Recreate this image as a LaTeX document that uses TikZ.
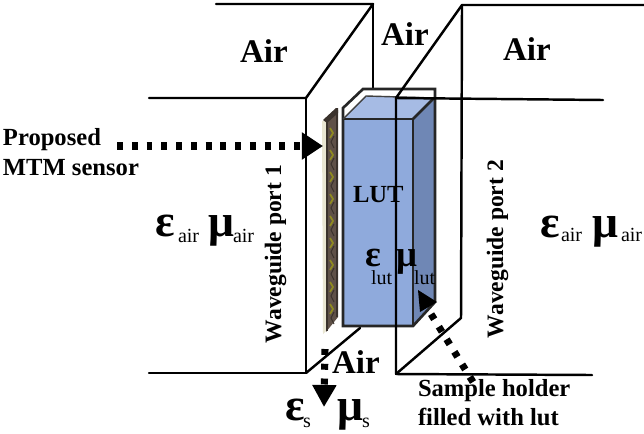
\documentclass[tikz,border=0pt]{standalone}
\usepackage{fontspec}
\setmainfont{Liberation Serif}
\usetikzlibrary{arrows.meta}
\definecolor{lutfront}{HTML}{8FAADC}
\definecolor{luttop}{HTML}{A6BBE4}
\definecolor{lutside}{HTML}{6F87B5}
\definecolor{sensorbrown}{HTML}{5F5148}
\definecolor{sensordark}{HTML}{3A322C}
\definecolor{sensorgreen}{HTML}{8F8A20}
\definecolor{sensorpale}{HTML}{E9E6D2}
\tikzset{
  x=0.02cm,y=-0.02cm,
  wall/.style={line width=1.4pt,black,line cap=round,line join=round},
  holder/.style={line width=1.5pt,black!85,line join=miter},
  dots/.style={line width=4pt,dash pattern=on 3.4pt off 5pt,black},
  lbl/.style={anchor=base west,inner sep=0pt,outer sep=0pt,font=\fontsize{14}{16}\selectfont\bfseries},
  airlbl/.style={lbl,font=\fontsize{18.8}{20}\selectfont\bfseries},
  sym/.style={lbl,font=\fontsize{26}{28}\selectfont\bfseries},
  symsmall/.style={lbl,font=\fontsize{21}{23}\selectfont\bfseries},
  sub/.style={anchor=base west,inner sep=0pt,outer sep=0pt,font=\fontsize{11.4}{13}\selectfont},
  port/.style={lbl,rotate=90,font=\fontsize{13.4}{15}\selectfont\bfseries},
}
\begin{document}
\begin{tikzpicture}
\fill[white] (0,0) rectangle (644,433);
\useasboundingbox (0,0) rectangle (644,433);

% named corners of the two port planes
\coordinate (pa) at (306,98);
\coordinate (pb) at (373,4);
\coordinate (pc) at (306,373);
\coordinate (qa) at (396,98);
\coordinate (qb) at (462,5);
\coordinate (qc) at (396,374);
\coordinate (qd) at (461,318);

% port 1 (behind the box)
\draw[wall] (216,4) -- (pb) -- (pa) -- (149,98);
\draw[wall] (pb) -- (373,92);
\draw[wall] (pa) -- (pc) -- (149,373);
\draw[wall] (pc) -- (360,328);

% sensor
\fill[sensorpale] (322,121) -- (327,120) -- (327,330) -- (323,334) -- cycle;
\fill[sensorbrown] (326,120) -- (338,110) -- (338,317) -- (326,332) -- cycle;
\fill[sensordark] (323,120) -- (336,108) -- (338,108) -- (338,113) -- (327,123) -- cycle;
\draw[sensordark,line width=0.7pt] (327,122) -- (327,331) (337,111) -- (337,317);
\foreach \yy in {128,150,172,194,216,238,260,282,304}{
  \draw[sensorgreen,line width=1pt] (330,\yy) -- (333,\yy+5) -- (330,\yy+10);
  \draw[sensordark,line width=0.6pt] (334,\yy+8) -- (331,\yy+14) -- (334,\yy+20);
}

% LUT box
\fill[white] (343,108) -- (363,89) -- (435,89) -- (435,119) -- (343,119) -- cycle;
\fill[luttop] (343,119) -- (366,96) -- (434,99) -- (413,119) -- cycle;
\fill[lutside] (413,119) -- (434,99) -- (435,302) -- (413,326) -- cycle;
\fill[lutfront] (344,119) rectangle (413,326);
\draw[holder] (343,119) -- (343,108) -- (363,89) -- (435,89) -- (435,302) -- (413,326) -- (343,326) -- cycle;
\draw[holder] (343,119) -- (413,119) -- (413,326);
\draw[holder] (413,119) -- (434,98);
\draw[line width=0.8pt,black!75] (343,119) -- (366,96) -- (434,98);

% port 2 (in front of the box)
\draw[wall] (644,5) -- (qb) -- (qa) -- (603,100);
\draw[wall] (qb) -- (qd) -- (qc);
\draw[wall] (qa) -- (qc) -- (592,375);

% texts
\node[airlbl] (air1) at (240,62) {Air};
\node[airlbl] (air2) at (381,45) {Air};
\node[airlbl] (air3) at (503,60) {Air};
\node[airlbl] (air4) at (332,373) {Air};
\node[lbl] (prop) at (3,145) {Proposed};
\node[lbl] (mtm) at (3,175) {MTM sensor};
\node[port] (port1) at (281,343) {Waveguide port 1};
\node[port] (port2) at (503,338) {Waveguide port 2};
\node[lbl] (lut) at (353,202) {LUT};
\node[lbl] (s1) at (418,396) {Sample holder};
\node[lbl] (s2) at (418,425) {filled with lut};

\node[sym] (e1) at (155,236) {ε};
\node[sub] (e1s) at (178,242) {air};
\node[sym] (m1) at (208,236) {μ};
\node[sub] (m1s) at (233,242) {air};
\node[sym] (e2) at (540,237) {ε};
\node[sub] (e2s) at (561,241) {air};
\node[sym] (m2) at (592,237) {μ};
\node[sub] (m2s) at (621,241) {air};
\node[symsmall] (e3) at (365,266) {ε};
\node[sub] (e3s) at (371,284) {lut};
\node[symsmall] (m3) at (396,266) {μ};
\node[sub] (m3s) at (414,284) {lut};
\node[sym] (e4) at (285,420) {ε};
\node[sub] (e4s) at (303,427) {s};
\node[sym] (m4) at (337,420) {μ};
\node[sub] (m4s) at (362,427) {s};

% dotted pointers
\coordinate (a1s) at (117,146);
\coordinate (a1e) at (323,146);
\coordinate (a2s) at (325,349);
\coordinate (a2e) at (324,407);
\coordinate (a3s) at (473,382);
\coordinate (a3e) at (431,314);
\draw[dots,-{Triangle[length=12pt,width=14.8pt]}] (a1s) -- (a1e);
\draw[dots,-{Triangle[length=12.5pt,width=13pt]}] (a2s) -- (a2e);
\draw[dots] (a3s) -- (a3e);
\fill[black] (418,290) -- (437,302) -- (420,312) -- cycle;
\end{tikzpicture}
\end{document}
